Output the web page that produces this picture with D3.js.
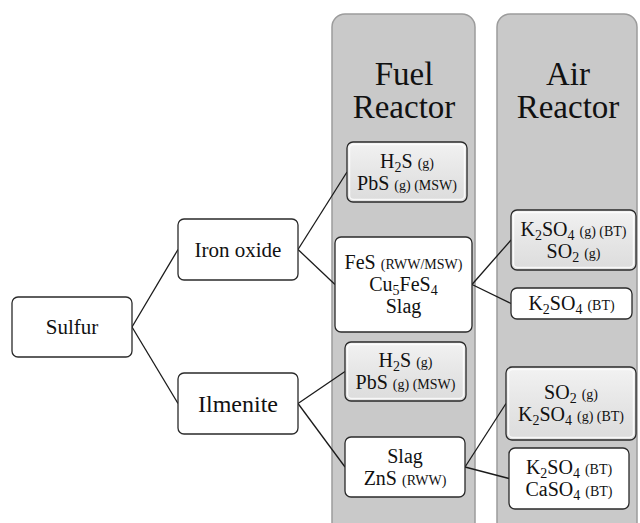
<!DOCTYPE html>
<html>
<head>
<meta charset="utf-8">
<script src="https://cdn.jsdelivr.net/npm/d3@7"></script>
</head>
<body style="margin:0">
<script>
// tree data: "_n" = subscript digit, {..} = small annotation
var nodeIds = ["sulfur", "iron", "ilm", "fr1", "fr2", "fr3", "fr4", "ar1", "ar2", "ar3", "ar4"];
var nodeParents = [null, "sulfur", "sulfur", "iron", "iron", "ilm", "ilm", "fr2", "fr2", "fr4", "fr4"];
var nodeLabels = [
  ["Sulfur"],
  ["Iron oxide"],
  ["Ilmenite"],
  ["H_2S {(g)}", "PbS {(g) (MSW)}"],
  ["FeS {(RWW/MSW)}", "Cu_5FeS_4", "Slag"],
  ["H_2S {(g)}", "PbS {(g) (MSW)}"],
  ["Slag", "ZnS {(RWW)}"],
  ["K_2SO_4 {(g) (BT)}", "SO_2 {(g)}"],
  ["K_2SO_4 {(BT)}"],
  ["SO_2 {(g)}", "K_2SO_4 {(g) (BT)}"],
  ["K_2SO_4 {(BT)}", "CaSO_4 {(BT)}"]
];
var gasNodes = ["fr1", "fr3", "ar1", "ar3"];
var panelTitles = [["Fuel", "Reactor"], ["Air", "Reactor"]];

// layout (box geometry)
var geom = {
  sulfur: {x: 12,  y: 297, w: 120, h: 60, fs: 21},
  iron:   {x: 178, y: 219, w: 120, h: 61, fs: 21},
  ilm:    {x: 178, y: 373, w: 120, h: 61, fs: 24},
  fr1:    {x: 347, y: 142, w: 120, h: 60},
  fr2:    {x: 335, y: 237, w: 137, h: 95},
  fr3:    {x: 345, y: 342, w: 121, h: 59},
  fr4:    {x: 345, y: 437, w: 120, h: 60},
  ar1:    {x: 511, y: 210, w: 125, h: 60},
  ar2:    {x: 511, y: 288, w: 121, h: 31},
  ar3:    {x: 506, y: 367, w: 130, h: 73},
  ar4:    {x: 509, y: 448, w: 120, h: 61}
};
var panels = [{x: 332, w: 143, cx: 404}, {x: 497, w: 140, cx: 568}];

var W = 640, H = 523;
var FONT = "Liberation Serif";

var svg = d3.select("body").append("svg")
  .attr("width", W)
  .attr("height", H);

var defs = svg.append("defs");
var grad = defs.append("linearGradient").attr("id", "gasfill")
  .attr("x1", 0).attr("y1", 0).attr("x2", 0).attr("y2", 1);
grad.append("stop").attr("offset", "0%").attr("stop-color", "#f2f2f2");
grad.append("stop").attr("offset", "50%").attr("stop-color", "#e6e6e6");
grad.append("stop").attr("offset", "100%").attr("stop-color", "#dcdcdc");

// panels
var pg = svg.append("g");
pg.selectAll("rect").data(panels).enter().append("rect")
  .attr("x", function(d) { return d.x; })
  .attr("y", 14)
  .attr("width", function(d) { return d.w; })
  .attr("height", 540)
  .attr("rx", 13)
  .attr("fill", "#c9c9c9")
  .attr("stroke", "#9c9c9c")
  .attr("stroke-width", 1.5);

panels.forEach(function(p, i) {
  var t = pg.append("text")
    .attr("font-family", FONT)
    .attr("text-anchor", "middle")
    .attr("font-size", 33)
    .attr("fill", "#111");
  panelTitles[i].forEach(function(line, j) {
    t.append("tspan").attr("x", p.cx).attr("y", 85 + j * 33).text(line);
  });
});

// hierarchy
var table = nodeIds.map(function(id, i) {
  return {id: id, parent: nodeParents[i], lines: nodeLabels[i]};
});
var root = d3.stratify().id(function(d) { return d.id; }).parentId(function(d) { return d.parent; })(table);

// links
svg.append("g").selectAll("line").data(root.links()).enter().append("line")
  .attr("x1", function(d) { var g = geom[d.source.id]; return g.x + g.w; })
  .attr("y1", function(d) { var g = geom[d.source.id]; return g.y + g.h / 2; })
  .attr("x2", function(d) { return geom[d.target.id].x; })
  .attr("y2", function(d) { var g = geom[d.target.id]; return g.y + g.h / 2; })
  .attr("stroke", "#1a1a1a")
  .attr("stroke-width", 1.3);

// nodes
var ng = svg.append("g").selectAll("g").data(root.descendants()).enter().append("g")
  .attr("transform", function(d) { var g = geom[d.id]; return "translate(" + g.x + "," + g.y + ")"; });

ng.append("rect")
  .attr("width", function(d) { return geom[d.id].w; })
  .attr("height", function(d) { return geom[d.id].h; })
  .attr("rx", 6)
  .attr("fill", function(d) { return gasNodes.indexOf(d.id) >= 0 ? "url(#gasfill)" : "#fff"; })
  .attr("stroke", "#2a2a2a")
  .attr("stroke-width", 1.3);

ng.filter(function(d) { return gasNodes.indexOf(d.id) >= 0; })
  .append("rect")
  .attr("x", 2.5).attr("y", 2.5)
  .attr("width", function(d) { return geom[d.id].w - 5; })
  .attr("height", function(d) { return geom[d.id].h - 5; })
  .attr("rx", 4)
  .attr("fill", "none")
  .attr("stroke", "#fff")
  .attr("stroke-opacity", 0.8)
  .attr("stroke-width", 1.5);

function parseLine(s) {
  var segs = [], buf = "", i = 0;
  function flush() { if (buf) { segs.push({t: buf, k: "n"}); buf = ""; } }
  while (i < s.length) {
    var c = s[i];
    if (c === "_") {
      flush();
      segs.push({t: s[i + 1], k: "sub"});
      i += 2;
    } else if (c === "{") {
      flush();
      var end = s.indexOf("}", i);
      segs.push({t: s.slice(i + 1, end), k: "small"});
      i = end + 1;
    } else {
      buf += c;
      i++;
    }
  }
  flush();
  return segs;
}

ng.each(function(d) {
  var g = geom[d.id];
  var fs = g.fs || 20;
  var n = d.data.lines.length;
  var lh = 22;
  var t = d3.select(this).append("text")
    .attr("font-family", FONT)
    .attr("text-anchor", "middle")
    .attr("font-size", fs)
    .attr("fill", "#111");
  d.data.lines.forEach(function(line, j) {
    var yc = g.h / 2 + (j - (n - 1) / 2) * lh;
    var lt = t.append("tspan").attr("x", g.w / 2).attr("y", yc + fs * 0.34);
    var shifted = false;
    parseLine(line).forEach(function(seg) {
      var sp = lt.append("tspan").text(seg.t);
      if (seg.k === "sub") {
        sp.attr("font-size", 14).attr("dy", 4);
        shifted = true;
      } else {
        if (shifted) { sp.attr("dy", -4); shifted = false; }
        if (seg.k === "small") sp.attr("font-size", 14);
      }
    });
  });
});
</script>
</body>
</html>
